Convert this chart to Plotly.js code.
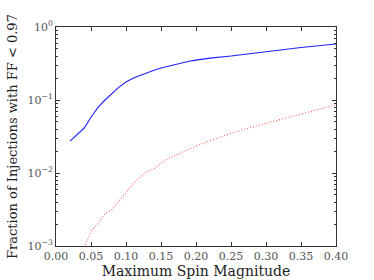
<!DOCTYPE html>
<html><head><meta charset="utf-8">
<script src="https://cdn.plot.ly/plotly-3.0.1.min.js"></script>
<style>html,body{margin:0;padding:0;background:#fff}#c{width:374px;height:280px}</style>
</head><body><div id="c"></div>
<script>
const spinBlue = [0.02,0.03,0.04,0.05,0.06,0.07,0.08,0.09,0.10,0.11,0.12,0.13,0.14,0.15,0.16,0.17,0.18,0.19,0.20,0.22,0.25,0.30,0.35,0.40];
const fracBlue = [0.0274,0.034,0.041,0.058,0.079,0.100,0.124,0.150,0.176,0.198,0.216,0.236,0.255,0.274,0.291,0.308,0.323,0.340,0.352,0.375,0.40,0.46,0.525,0.585];
const spinRed = [0.04,0.05,0.06,0.07,0.08,0.09,0.10,0.11,0.12,0.13,0.14,0.15,0.16,0.17,0.18,0.19,0.20,0.22,0.25,0.30,0.35,0.40];
const fracRed = [0.00095,0.00158,0.00203,0.0028,0.00315,0.0041,0.0053,0.0071,0.0087,0.0105,0.0114,0.0136,0.0157,0.0173,0.0192,0.0213,0.0235,0.0275,0.035,0.048,0.065,0.086];
const yTickVals = [0.001,0.01,0.1,1];
const yTickText = ['10<sup>−3</sup>','10<sup>−2</sup>','10<sup>−1</sup>','10<sup>0</sup>'];
const xTickVals = [0,0.05,0.10,0.15,0.20,0.25,0.30,0.35,0.40];

const minorY = [];
[0.001,0.01,0.1].forEach(d=>{for(let k=2;k<=9;k++) minorY.push(d*k);});

const serif = '"DejaVu Serif","Liberation Serif",serif';
Plotly.newPlot('c',[
  {x:spinBlue,y:fracBlue,mode:'lines',line:{color:'#2020ff',width:1.1},type:'scatter'},
  {x:spinRed,y:fracRed,mode:'lines',line:{color:'#ff5a5a',width:1.1,dash:'1px,2px'},type:'scatter'}
],{
  width:374,height:280,showlegend:false,
  paper_bgcolor:'#fff',plot_bgcolor:'#fff',
  margin:{l:56,r:38,t:27,b:34},
  font:{family:serif,color:'#222'},
  xaxis:{range:[0,0.4],tickmode:'array',tickvals:xTickVals,tickformat:'.2f',
    ticks:'inside',ticklen:4,tickcolor:'#333',showgrid:false,zeroline:false,
    showline:true,linecolor:'#333',linewidth:1,mirror:'ticks',
    tickfont:{size:11,color:'#555',family:serif},
    title:{text:'Maximum Spin Magnitude',font:{size:14,color:'#222',family:serif},standoff:2}},
  yaxis:{type:'log',range:[-3,0],tickmode:'array',tickvals:yTickVals,ticktext:yTickText,
    ticks:'inside',ticklen:4,tickcolor:'#333',showgrid:false,zeroline:false,
    showline:true,linecolor:'#333',linewidth:1,mirror:'ticks',
    minor:{tickmode:'array',tickvals:minorY,ticks:'inside',ticklen:2,tickcolor:'#333',showgrid:false},
    tickfont:{size:11,color:'#555',family:serif},
    title:{text:'Fraction of Injections with FF < 0.97',font:{size:13,color:'#222',family:serif},standoff:6}}
},{staticPlot:true});
</script></body></html>
